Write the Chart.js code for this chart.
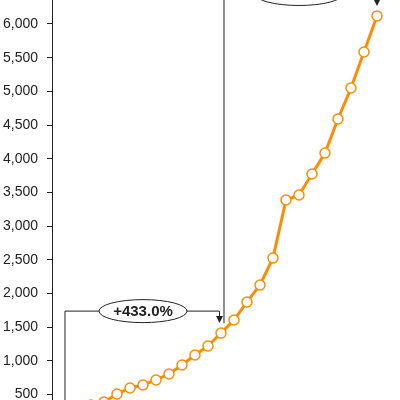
<!DOCTYPE html>
<html>
<head>
<meta charset="utf-8">
<script src="https://cdn.jsdelivr.net/npm/chart.js@4/dist/chart.umd.min.js"></script>
<style>
  html, body { margin: 0; padding: 0; background: #fff; }
  #wrap { width: 400px; height: 400px; position: relative; }
</style>
</head>
<body>
<div id="wrap"><canvas id="chart"></canvas></div>
<script>
// data (first points sit below the visible area)
const years = [1999, 2000, 2001, 2002, 2003, 2004, 2005, 2006, 2007, 2008, 2009, 2010, 2011,
               2012, 2013, 2014, 2015, 2016, 2017, 2018, 2019, 2020, 2021, 2022, 2023];
const values = [265, 300, 345, 390, 509, 598, 643, 717, 806, 940, 1088, 1222, 1412.5,
                1607, 1875, 2127, 2528, 3388, 3462, 3774, 4086, 4590, 5050, 5584, 6119];
const yTicks = [500, 1000, 1500, 2000, 2500, 3000, 3500, 4000, 4500, 5000, 5500, 6000];
// growth brackets: [from index, to index]
const brackets = [[0, 12], [12, 24]];

const orange = '#ff8c00';

function pct(a, b) {
    const g = (values[b] / values[a] - 1) * 100;
    return (g >= 0 ? '+' : '') + g.toFixed(1) + '%';
}

const bracketPlugin = {
    id: 'brackets',
    afterDatasetsDraw(chart) {
        const ctx = chart.ctx;
        const pts = chart.getDatasetMeta(0).data;
        ctx.save();
        ctx.strokeStyle = '#222';
        ctx.fillStyle = '#222';
        ctx.lineWidth = 1;
        brackets.forEach(([a, b]) => {
            const p0 = pts[a], p1 = pts[b];
            // shift legs a bit where a point is shared by two brackets
            const sharedStart = brackets.some(br => br[1] === a);
            const sharedEnd = brackets.some(br => br[0] === b);
            const xl = p0.x + (sharedStart ? 3 : 0);
            const xr = p1.x - (sharedEnd ? 1.5 : 0);
            const top = Math.min(p0.y, p1.y) - 22;
            const tipY = p1.y - 10;

            ctx.beginPath();
            ctx.moveTo(xl, p0.y - 10);
            ctx.lineTo(xl, top);
            ctx.lineTo(xr, top);
            ctx.lineTo(xr, tipY - 6);
            ctx.stroke();

            ctx.beginPath();
            ctx.moveTo(xr - 3.5, tipY - 7);
            ctx.lineTo(xr + 3.5, tipY - 7);
            ctx.lineTo(xr, tipY);
            ctx.closePath();
            ctx.fill();

            const cx = (p0.x + p1.x) / 2;
            ctx.beginPath();
            ctx.ellipse(cx, top, 44, 11.5, 0, 0, Math.PI * 2);
            ctx.fillStyle = '#fff';
            ctx.fill();
            ctx.stroke();
            ctx.fillStyle = '#222';
            ctx.font = 'bold 15px "Liberation Sans", Arial, sans-serif';
            ctx.textAlign = 'center';
            ctx.textBaseline = 'middle';
            ctx.fillText(pct(a, b), cx, top + 1);
        });
        ctx.restore();
    }
};

const ctx = document.getElementById('chart').getContext('2d');
new Chart(ctx, {
    type: 'line',
    data: {
        datasets: [{
            label: 'Value',
            data: years.map((yr, i) => ({ x: i, y: values[i] })),
            borderColor: orange,
            borderWidth: 3,
            pointRadius: 5,
            pointBorderWidth: 1.5,
            pointBackgroundColor: '#fff',
            pointBorderColor: orange,
            tension: 0
        }]
    },
    options: {
        responsive: true,
        maintainAspectRatio: false,
        animation: false,
        layout: { padding: 0, autoPadding: false },
        plugins: {
            legend: { display: false },
            tooltip: { enabled: false }
        },
        scales: {
            x: {
                type: 'linear',
                display: false,
                min: -1,
                max: 25.77
            },
            y: {
                min: 420,
                max: 6356,
                afterFit(scale) {
                    scale.width = 52;
                    scale.paddingTop = 0;
                    scale.paddingBottom = 0;
                },
                afterBuildTicks(scale) {
                    scale.ticks = yTicks.map(v => ({ value: v }));
                },
                border: { display: true, color: '#222', width: 1 },
                grid: { drawOnChartArea: false, drawTicks: true, tickLength: 5, color: '#222' },
                ticks: {
                    padding: 9,
                    color: '#222',
                    font: { family: '"Liberation Sans", Arial, sans-serif', size: 14 },
                    callback: v => v.toLocaleString('en-US')
                }
            }
        }
    },
    plugins: [bracketPlugin]
});
</script>
</body>
</html>
